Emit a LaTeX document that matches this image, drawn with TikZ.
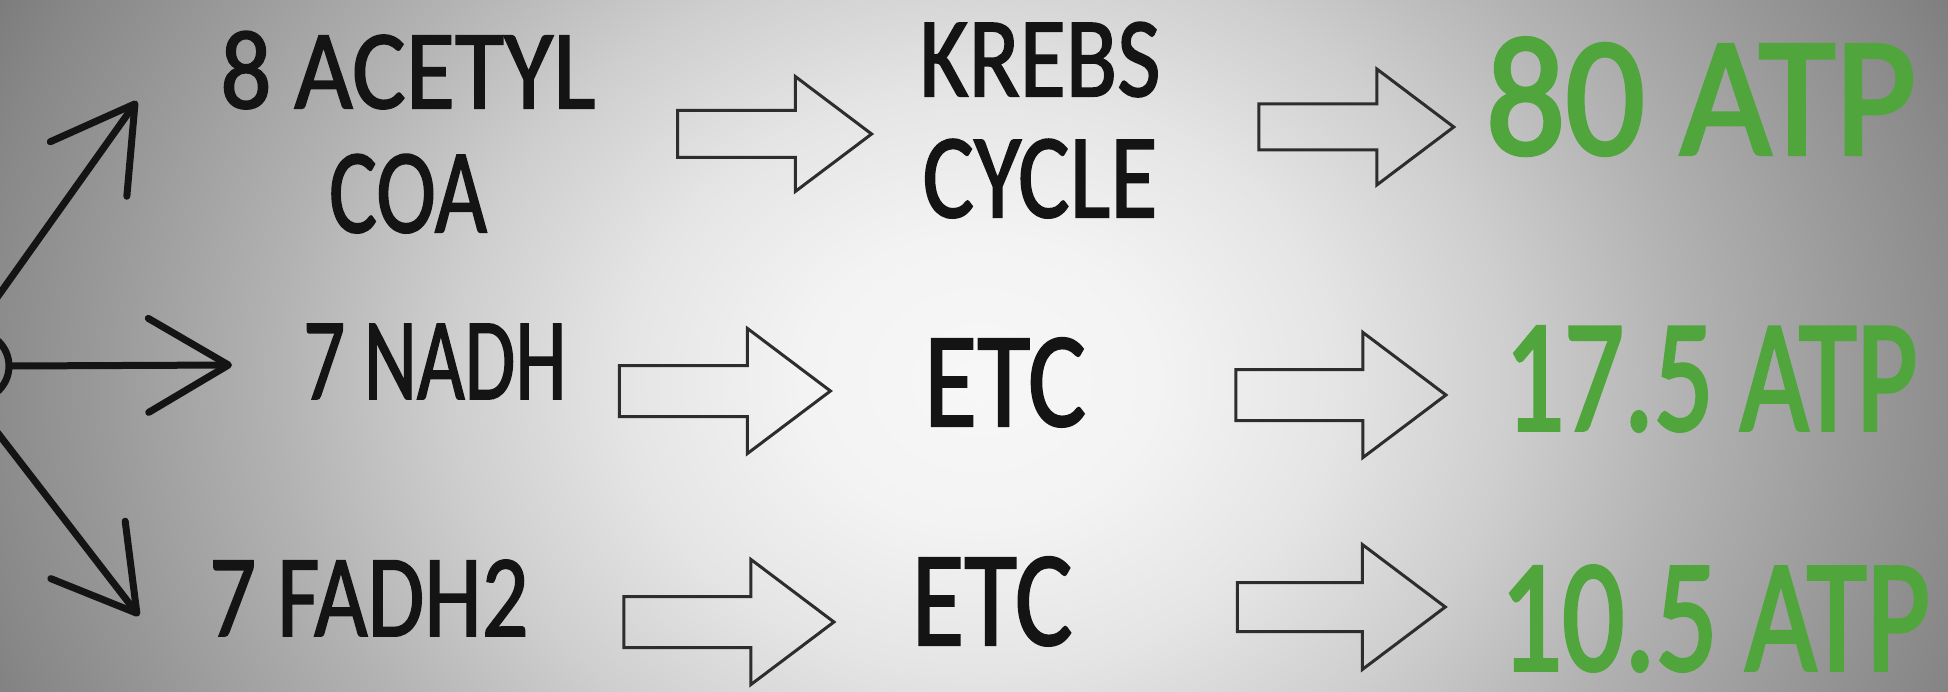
\documentclass[tikz,border=0pt]{standalone}
\usepackage{fontspec}
\setmainfont{Carlito}
\newfontfamily\inkfont{Carlito}[FakeBold=1.6]
\newfontfamily\atpfont{Carlito}[FakeBold=2.4]
\usepackage{graphicx}
\usetikzlibrary{arrows.meta,shapes.arrows}
\definecolor{ink}{RGB}{20,20,20}
\definecolor{atp}{RGB}{80,166,60}
\definecolor{arrowline}{RGB}{45,45,45}
\pgfdeclareradialshading{bgshade}{\pgfpoint{0bp}{0bp}}{%
  rgb(0bp)=(0.969,0.969,0.969);
  rgb(8bp)=(0.953,0.953,0.953);
  rgb(16bp)=(0.898,0.898,0.898);
  rgb(24bp)=(0.808,0.808,0.808);
  rgb(32bp)=(0.698,0.698,0.698);
  rgb(40bp)=(0.600,0.600,0.600);
  rgb(46bp)=(0.530,0.530,0.530);
  rgb(52bp)=(0.450,0.450,0.450);
  rgb(71bp)=(0.400,0.400,0.400)}
\newcommand{\fitto}[3]{\resizebox{#1pt}{#2pt}{#3}}
\begin{document}
\begin{tikzpicture}[x=1pt,y=-1pt,
  lbl/.style={inner sep=0pt, text=ink, align=center, font=\inkfont},
  atplbl/.style={inner sep=0pt, text=atp, font=\atpfont},
  blk/.style={single arrow, draw=arrowline, line width=3pt, single arrow tip angle=74,
    inner xsep=0pt, text height=0pt, text depth=0pt, minimum width=1pt},
  fork/.style={draw=ink, line width=7pt, line cap=round,
    -{Straight Barb[length=80pt, width=94pt, round]}},
  hubstyle/.style={circle, draw=ink, line width=7pt, minimum size=68pt, inner sep=0pt}
]
\useasboundingbox (0,0) rectangle (1948,692);
\begin{scope}
\clip (0,0) rectangle (1948,692);
\pgftransformshift{\pgfpointxy{980}{380}}
\pgftransformxscale{22}
\pgftransformyscale{18}
\pgflowlevelsynccm
\pgfuseshading{bgshade}
\end{scope}

% hub and fork arrows
\node[hubstyle] (hub) at (-25,366) {};
\coordinate (tA) at (137,101);
\coordinate (tB) at (232,365);
\coordinate (tC) at (139,616);
\draw[fork] (hub.north) -- (tA);
\draw[fork] (hub.east) -- (tB);
\draw[fork] (hub.south) -- (tC);

% left labels
\node[lbl, anchor=north, font=\inkfont\fontsize{20pt}{124pt}\selectfont] (acetyl) at (408,31)
  {\fitto{375}{77}{8 ACETYL}\\\fitto{158}{78}{COA}};
\node[lbl, anchor=base] (nadh) at (435,399) {\fitto{263}{75}{7 NADH}};
\node[lbl, anchor=base] (fadh) at (369,636) {\fitto{319}{76}{7 FADH2}};

% middle labels
\node[lbl, anchor=north, font=\inkfont\fontsize{20pt}{121pt}\selectfont] (krebs) at (1040,22)
  {\fitto{241}{74}{KREBS}\\\fitto{235}{78}{CYCLE}};
\node[lbl, anchor=base] (etc1) at (1005,426) {\fitto{162}{88}{ETC}};
\node[lbl, anchor=base] (etc2) at (992,645) {\fitto{161}{88}{ETC}};

% right labels
\node[atplbl, anchor=base] (atp1) at (1701,154) {\fitto{430}{116}{80 ATP}};
\node[atplbl, anchor=base] (atp2) at (1711,430) {\fitto{413}{103}{17.5 ATP}};
\node[atplbl, anchor=base] (atp3) at (1715,670) {\fitto{430}{104}{10.5 ATP}};

% block arrows
\node[blk, minimum height=194pt, inner ysep=22pt, single arrow head extend=34pt] (a1) at (759,134) {};
\node[blk, minimum height=211pt, inner ysep=24pt, single arrow head extend=37pt] (a2) at (708,391) {};
\node[blk, minimum height=210pt, inner ysep=24pt, single arrow head extend=37pt] (a3) at (712,622) {};
\node[blk, minimum height=195pt, inner ysep=21.5pt, single arrow head extend=35pt] (a4) at (1341,127) {};
\node[blk, minimum height=210pt, inner ysep=24pt, single arrow head extend=37pt] (a5) at (1324,395) {};
\node[blk, minimum height=208pt, inner ysep=23pt, single arrow head extend=38pt] (a6) at (1325,607) {};
\end{tikzpicture}
\end{document}
